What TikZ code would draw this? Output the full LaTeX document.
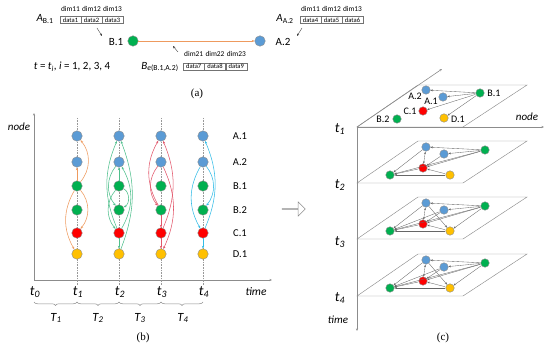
\documentclass[tikz,border=0pt]{standalone}
\usepackage{fontspec}
\setmainfont{Carlito}
\newfontfamily\serifcap{Liberation Serif}
\usetikzlibrary{arrows.meta,decorations.pathreplacing,shapes.arrows}
\definecolor{nblue}{HTML}{5B9BD5}
\definecolor{ngreen}{HTML}{00B050}
\definecolor{nred}{HTML}{FF0000}
\definecolor{nyellow}{HTML}{FFC000}
\definecolor{corange}{HTML}{EE9A5E}
\definecolor{cgreen}{HTML}{4FBF8C}
\definecolor{cred}{HTML}{E2566A}
\definecolor{ccyan}{HTML}{33BCE6}
\begin{document}
\begin{tikzpicture}[x=1pt,y=-1pt,
  vdot/.style={circle,inner sep=0pt,minimum size=#1,draw=black!45,line width=0.4pt},
  bl/.style={vdot=10.5pt,fill=nblue}, gr/.style={vdot=10.5pt,fill=ngreen},
  rd/.style={vdot=10.5pt,fill=nred}, yl/.style={vdot=10.5pt,fill=nyellow},
  bls/.style={vdot=8.5pt,fill=nblue}, grs/.style={vdot=8.5pt,fill=ngreen},
  rds/.style={vdot=8.5pt,fill=nred}, yls/.style={vdot=8.5pt,fill=nyellow},
  cell/.style={draw=black!55,line width=0.35pt,minimum width=21pt,minimum height=7pt,inner sep=0pt,font=\fontsize{6.6}{7}\selectfont},
  hdr/.style={font=\fontsize{7.4}{8}\selectfont,inner sep=0pt},
  lbl/.style={font=\fontsize{10.5}{12}\selectfont,inner sep=0pt},
  tl/.style={font=\fontsize{14}{16}\selectfont\itshape,inner sep=0pt},
  captxt/.style={font=\serifcap\fontsize{11}{12}\selectfont,inner sep=0pt},
  ptr/.style={-{Stealth[length=2.5pt,width=2pt]},black!80,line width=0.35pt},
  arcb/.style={-{Stealth[length=2.8pt,width=2.4pt]},line width=0.55pt},
  oarc/.style={arcb,draw=corange},
  garc/.style={arcb,draw=cgreen},
  rarc/.style={arcb,draw=cred},
  carc/.style={arcb,draw=ccyan},
  axisl/.style={draw=black!45,line width=0.6pt},
  plane/.style={draw=black!45,line width=0.45pt},
  edg/.style={-{Stealth[length=2.4pt,width=2pt]},draw=black!60,line width=0.35pt,shorten <=0.3pt}]
\useasboundingbox (0,0) rectangle (550,353);

% ---------------- panel (a)
\node[hdr] (h1) at (70.5,9) {dim11};
\node[hdr] (h2) at (91.5,9) {dim12};
\node[hdr] (h3) at (112.5,9) {dim13};
\node[cell] (d1) at (70.5,20) {data1};
\node[cell] (d2) at (91.5,20) {data2};
\node[cell] (d3) at (112.5,20) {data3};
\node[lbl,font=\fontsize{11}{12}\selectfont] (lAB1) at (45,19) {\textit{A}\textsubscript{B.1}};
\node[hdr] (h4) at (310.5,9) {dim11};
\node[hdr] (h5) at (331.5,9) {dim12};
\node[hdr] (h6) at (352.5,9) {dim13};
\node[cell] (d4) at (310.5,20) {data4};
\node[cell] (d5) at (331.5,20) {data5};
\node[cell] (d6) at (352.5,20) {data6};
\node[lbl,font=\fontsize{11}{12}\selectfont] (lAA2) at (285,19) {\textit{A}\textsubscript{A.2}};
\node[hdr] (h7) at (193.7,54) {dim21};
\node[hdr] (h8) at (215,54) {dim22};
\node[hdr] (h9) at (236.3,54) {dim23};
\node[cell] (d7) at (193.7,66.5) {data7};
\node[cell] (d8) at (215,66.5) {data8};
\node[cell] (d9) at (236.3,66.5) {data9};
\node[lbl,font=\fontsize{11}{12}\selectfont] (lBe) at (160,67) {\textit{B}\textsubscript{\textit{e}(B.1,A.2)}};
\node[lbl,font=\fontsize{11}{12}\selectfont] (lt) at (72,67) {\textit{t} = \textit{t}\textsubscript{\textit{i}}, \textit{i} = 1, 2, 3, 4};
\node[gr] (aB1) at (133,41) {};
\node[bl] (aA2) at (260,41) {};
\node[lbl,font=\fontsize{11}{12}\selectfont] (laB1) at (116,42) {B.1};
\node[lbl,font=\fontsize{11}{12}\selectfont] (laA2) at (283,42) {A.2};
\draw[oarc,line width=0.7pt] (aB1) -- (aA2);
\coordinate (p1s) at (97,28); \coordinate (p1e) at (102,36);
\coordinate (p2s) at (302,28); \coordinate (p2e) at (297,36);
\coordinate (p3s) at (178,52); \coordinate (p3e) at (173,46);
\draw[ptr] (p1s) -- (p1e);
\draw[ptr] (p2s) -- (p2e);
\draw[ptr] (p3s) -- (p3e);
\node[captxt] (capa) at (197,94) {(a)};

% ---------------- panel (b)
\coordinate (bO) at (34,280);
\coordinate (bY) at (34,113);
\coordinate (bX) at (272,280);
\draw[axisl,-{Stealth[length=2.5pt,width=2pt]}] (bO) -- (bY);
\draw[axisl,-{Stealth[length=2.5pt,width=2pt]}] (bO) -- (bX);
\node[lbl,font=\fontsize{11}{12}\selectfont\itshape] (lnode) at (19,127) {node};
\foreach \c/\x in {1/77,2/119,3/161,4/203} {
  \draw[densely dotted,black!40,line width=0.6pt] (\x,118) -- (\x,285);
  \node[bl] (b\c-A1) at (\x,136) {};
  \node[bl] (b\c-A2) at (\x,162) {};
  \node[gr] (b\c-B1) at (\x,186) {};
  \node[gr] (b\c-B2) at (\x,210) {};
  \node[rd] (b\c-C1) at (\x,233) {};
  \node[yl] (b\c-D1) at (\x,254) {};
}
\node[lbl] (rA1) at (240,136) {A.1};
\node[lbl] (rA2) at (240,162) {A.2};
\node[lbl] (rB1) at (240,186) {B.1};
\node[lbl] (rB2) at (240,210) {B.2};
\node[lbl] (rC1) at (240,233) {C.1};
\node[lbl] (rD1) at (240,254) {D.1};
% t1 orange
\draw[oarc] (b1-B1) to[bend right=40] (b1-A1);
\draw[oarc] (b1-B1) to[bend right=30] (b1-D1);
\draw[oarc] (b1-B1) to[bend left=40] (b1-C1);
\draw[oarc] (b1-B1) -- (b1-A2);
% t2 green
\draw[garc] (b2-C1) to[bend left=23] (b2-A1);
\draw[garc] (b2-B1) to[bend right=40] (b2-C1);
\draw[garc] (b2-A2) to[bend right=38] (b2-B2);
\draw[garc] (b2-D1) to[bend right=21] (b2-A1);
\draw[garc] (b2-C1) to[bend right=30] (b2-A2);
\draw[garc] (b2-B1) to[bend left=60] (b2-B2);
\draw[garc] (b2-B1) -- (b2-A2);
\draw[garc] (b2-C1) -- (b2-D1);
% t3 red
\draw[rarc] (b3-B2) to[bend left=30] (b3-A1);
\draw[rarc] (b3-A2) to[bend right=38] (b3-B2);
\draw[rarc] (b3-C1) to[bend right=23] (b3-A1);
\draw[rarc] (b3-A2) to[bend left=25] (b3-D1);
\draw[rarc] (b3-B2) -- (b3-C1);
\draw[rarc] (b3-C1) -- (b3-D1);
% t4 cyan
\draw[carc] (b4-A2) to[bend right=30] (b4-C1);
\draw[carc] (b4-C1) to[bend right=23] (b4-A1);
\draw[carc] (b4-A2) to[bend left=38] (b4-B2);
\draw[carc,line width=1pt] (b4-C1) -- (b4-D1);
% time labels
\node[tl] (t0) at (35,292) {t\textsubscript{0}};
\node[tl] (t1) at (78,292) {t\textsubscript{1}};
\node[tl] (t2) at (120,292) {t\textsubscript{2}};
\node[tl] (t3) at (162,292) {t\textsubscript{3}};
\node[tl] (t4) at (204,292) {t\textsubscript{4}};
\node[lbl,font=\fontsize{11.5}{12}\selectfont\itshape] (ltime) at (256,292) {time};
\foreach \a/\b in {34/77,77/119,119/161,161/203} {
  \draw[black!45,line width=0.5pt,decorate,decoration={brace,mirror,amplitude=3.5pt}] (\a,302) -- (\b,302);
}
\node[tl,font=\fontsize{12.5}{14}\selectfont\itshape] (T1) at (56,318) {T\textsubscript{1}};
\node[tl,font=\fontsize{12.5}{14}\selectfont\itshape] (T2) at (98,318) {T\textsubscript{2}};
\node[tl,font=\fontsize{12.5}{14}\selectfont\itshape] (T3) at (140,318) {T\textsubscript{3}};
\node[tl,font=\fontsize{12.5}{14}\selectfont\itshape] (T4) at (183,318) {T\textsubscript{4}};
\node[captxt] (capb) at (143,338) {(b)};

% hollow arrow
\node[single arrow,draw=black!45,line width=0.5pt,minimum height=23pt,minimum width=14pt,single arrow head extend=4pt,inner sep=0pt] (harrow) at (293.5,209) {};

% ---------------- panel (c)
\foreach \b in {127,183,239,296} {
  \draw[plane] (357,\b) -- (463,\b) -- (527,\b-42) -- (418,\b-42) -- cycle;
}
\coordinate (cO) at (357,127);
\coordinate (cZ) at (442,69);
\coordinate (cX) at (544,127);
\coordinate (cT) at (357,331);
\draw[axisl,-{Stealth[length=2.5pt,width=2pt]}] (cO) -- (cZ);
\draw[axisl,-{Stealth[length=2.5pt,width=2pt]}] (cO) -- (cX);
\draw[axisl,-{Stealth[length=2.5pt,width=2pt]}] (cO) -- (cT);
\node[lbl,font=\fontsize{11}{12}\selectfont\itshape] (cnode) at (527,117) {node};
\node[lbl,font=\fontsize{11}{12}\selectfont\itshape] (ctime) at (338,320) {time};
\node[tl] (ct1) at (340,129) {t\textsubscript{1}};
\node[tl] (ct2) at (340,185) {t\textsubscript{2}};
\node[tl] (ct3) at (340,242) {t\textsubscript{3}};
\node[tl] (ct4) at (340,298) {t\textsubscript{4}};
% plane 1
\node[bls] (q-A2) at (426,90) {};
\node[bls] (q-A1) at (443,97) {};
\node[grs] (q-B1) at (480,93) {};
\node[rds] (q-C1) at (423,111) {};
\node[grs] (q-B2) at (397,119) {};
\node[yls] (q-D1) at (444,118) {};
\node[lbl,font=\fontsize{10}{11}\selectfont] (qlA2) at (415,96) {A.2};
\node[lbl,font=\fontsize{10}{11}\selectfont] (qlA1) at (431,101.5) {A.1};
\node[lbl,font=\fontsize{10}{11}\selectfont] (qlB1) at (494,93) {B.1};
\node[lbl,font=\fontsize{10}{11}\selectfont] (qlC1) at (410,111) {C.1};
\node[lbl,font=\fontsize{10}{11}\selectfont] (qlB2) at (383,119) {B.2};
\node[lbl,font=\fontsize{10}{11}\selectfont] (qlD1) at (458,119) {D.1};
\draw[edg] (q-B1) -- (q-A2);
\draw[edg] (q-B1) -- (q-A1);
\draw[edg] (q-B1) -- (q-C1);
\draw[edg] (q-B1) -- (q-D1);
% planes 2-4
\foreach \k/\b in {2/183,3/239,4/296} {
  \node[bls] (p\k-A2) at (426,\b-36) {};
  \node[bls] (p\k-A1) at (444,\b-29) {};
  \node[grs] (p\k-B1) at (485,\b-33) {};
  \node[rds] (p\k-C1) at (423,\b-15) {};
  \node[grs] (p\k-B2) at (390,\b-8) {};
  \node[yls] (p\k-D1) at (450,\b-8) {};
  \draw[edg] (p\k-B1) -- (p\k-A2);
  \draw[edg] (p\k-B1) -- (p\k-A1);
  \draw[edg] (p\k-B1) -- (p\k-C1);
  \draw[edg] (p\k-B1) -- (p\k-B2);
  \draw[edg] (p\k-A2) -- (p\k-B2);
  \draw[edg,{Stealth[length=2.4pt,width=2pt]}-{Stealth[length=2.4pt,width=2pt]}] (p\k-A2) -- (p\k-C1);
  \draw[edg] (p\k-A1) -- (p\k-C1);
  \draw[edg] (p\k-C1) -- (p\k-B2);
  \draw[edg] (p\k-D1) -- (p\k-C1);
  \draw[edg] (p\k-D1) -- (p\k-B2);
}
\foreach \k in {3,4} {
  \draw[edg] (p\k-A2) -- (p\k-D1);
  \draw[edg] (p\k-B1) -- (p\k-D1);
  \draw[edg] (p\k-A1) -- (p\k-B2);
}
\node[captxt] (capc) at (443,338) {(c)};
\end{tikzpicture}
\end{document}
